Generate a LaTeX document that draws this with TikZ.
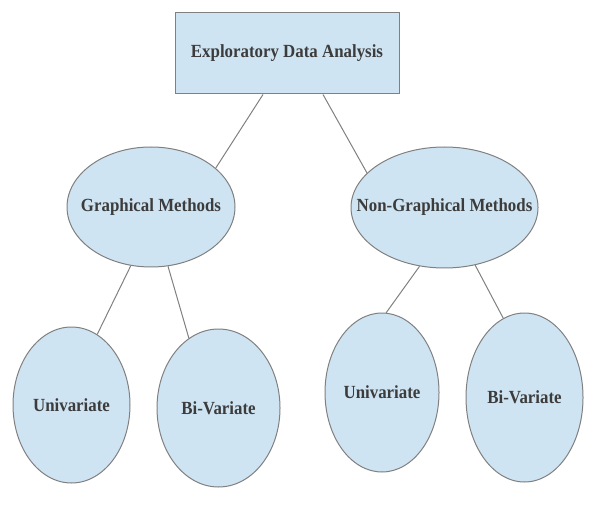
\documentclass[tikz,border=0pt]{standalone}
\usepackage{fontspec}
\setmainfont{Liberation Serif}
\newfontfamily\boxfont[FakeStretch=0.91]{Liberation Serif}
\usetikzlibrary{shapes.geometric}
\definecolor{boxblue}{RGB}{207,228,242}
\definecolor{rimgray}{RGB}{128,128,128}
\definecolor{inkgray}{RGB}{60,60,60}
\newcommand{\ovaltext}[1]{\makebox[0pt]{#1}}
\tikzset{
  topbox/.style={rectangle, draw=rimgray, fill=boxblue, line width=0.75pt, inner sep=0pt,
    text=inkgray, font=\boxfont\bfseries\fontsize{13.9}{16}\selectfont},
  oval/.style={ellipse, draw=rimgray, fill=boxblue, line width=0.75pt, inner sep=0pt,
    text=inkgray, font=\boxfont\bfseries\fontsize{13.9}{16}\selectfont},
  link/.style={draw=rimgray, line width=0.75pt}
}
\begin{document}
\begin{tikzpicture}[x=0.75pt, y=-0.75pt]
  \useasboundingbox (0,0) rectangle (598,505);
  % Nodes
  \node (EDA) [topbox, minimum width=168pt, minimum height=60.75pt] at (287, 53.5) {Exploratory Data Analysis};
  \node (GM) [oval, minimum width=126pt, minimum height=90pt] at (151, 207) {\ovaltext{Graphical Methods}};
  \node (NGM) [oval, minimum width=140.25pt, minimum height=90.75pt] at (444.5, 207.5) {\ovaltext{Non-Graphical Methods}};
  \node (GU) [oval, minimum width=87.75pt, minimum height=117pt] at (71.5, 405) {\ovaltext{Univariate}};
  \node (GB) [oval, minimum width=92.25pt, minimum height=118.5pt] at (218.5, 408) {\ovaltext{Bi-Variate}};
  \node (NU) [oval, minimum width=85.5pt, minimum height=119.25pt] at (382, 392.5) {\ovaltext{Univariate}};
  \node (NB) [oval, minimum width=87.75pt, minimum height=126.75pt] at (524.5, 397.5) {\ovaltext{Bi-Variate}};
  % Lines
  \draw[link] ([xshift=-18pt]EDA.south) -- (GM.31);
  \draw[link] ([xshift=27pt]EDA.south) -- (NGM.156);
  \draw[link] (GM.251) -- (GU.70);
  \draw[link] (GM.286) -- (GB.113);
  \draw[link] (NGM.247) -- (NU.87);
  \draw[link] (NGM.298) -- (NB.105);
\end{tikzpicture}
\end{document}
